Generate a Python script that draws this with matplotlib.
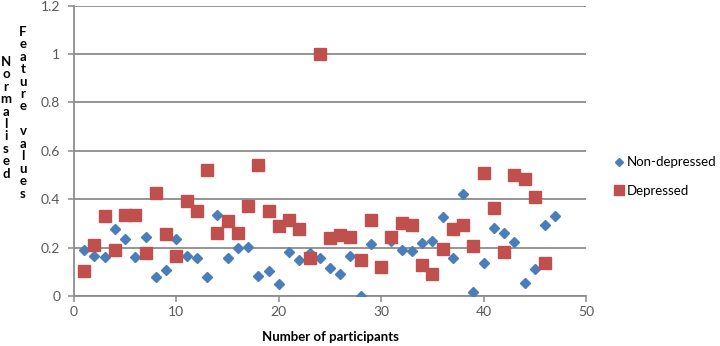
import numpy as np
import matplotlib
matplotlib.use('Agg')
import matplotlib.pyplot as plt

plt.rcParams['font.family'] = ['Lato', 'DejaVu Sans']

# participant numbers
participants = np.arange(1, 48)

# normalised feature values
non_depressed = [0.19, 0.167, 0.162, 0.276, 0.236, 0.162, 0.244, 0.077, 0.106, 0.234,
                 0.167, 0.156, 0.08, 0.335, 0.156, 0.2, 0.204, 0.084, 0.105, 0.05,
                 0.183, 0.15, 0.176, 0.157, 0.116, 0.092, 0.165, 0.0, 0.215, 0.12,
                 0.228, 0.19, 0.187, 0.22, 0.229, 0.328, 0.156, 0.421, 0.018, 0.138,
                 0.28, 0.262, 0.224, 0.052, 0.112, 0.293, 0.331]
depressed = [0.103, 0.21, 0.33, 0.189, 0.335, 0.335, 0.176, 0.427, 0.255, 0.167,
             0.393, 0.351, 0.52, 0.259, 0.31, 0.259, 0.373, 0.541, 0.353, 0.29,
             0.314, 0.275, 0.156, 1.0, 0.241, 0.252, 0.245, 0.149, 0.314, 0.121,
             0.242, 0.3, 0.293, 0.128, 0.091, 0.194, 0.276, 0.293, 0.207, 0.51,
             0.365, 0.183, 0.5, 0.483, 0.41, 0.135]

blue = '#4a7ebb'
red = '#c0504d'
grid_col = '#8c8c8c'
tick_col = '#595959'

fig = plt.figure(figsize=(7.2, 3.46), dpi=100)
ax = fig.add_axes([0.1028, 0.1445, 0.7111, 0.839])

ax.plot(participants, non_depressed, linestyle='none', marker='D', markersize=5.6,
        color=blue, label='Non-depressed', zorder=3)
ax.plot(participants[:len(depressed)], depressed, linestyle='none', marker='s',
        markersize=8.6, color=red, label='Depressed', zorder=4)

ax.set_xlim(0, 50)
ax.set_ylim(0, 1.2)
ax.set_xticks(np.arange(0, 51, 10))
ax.set_yticks(np.arange(0, 1.21, 0.2))
ax.set_yticklabels(['0', '0.2', '0.4', '0.6', '0.8', '1', '1.2'])

ax.yaxis.grid(True, color=grid_col, linewidth=1.3)
ax.set_axisbelow(True)
for side in ['top', 'right']:
    ax.spines[side].set_visible(False)
for side in ['left', 'bottom']:
    ax.spines[side].set_color(grid_col)
    ax.spines[side].set_linewidth(1.3)
ax.tick_params(axis='both', colors=grid_col, labelcolor=tick_col, labelsize=10,
               length=4, width=1.1)
ax.tick_params(axis='y', pad=6)

ax.set_xlabel('Number of participants', fontsize=9.5, fontweight='bold', labelpad=9)

# stacked vertical y label, two columns
col1 = 'Normalised'
col2 = 'Feature values'
step = 12.45 / 346
for i, ch in enumerate(col1):
    fig.text(6 / 720, 1 - (61.7 / 346) - i * step, ch, ha='center', va='center',
             fontsize=9.5, fontweight='bold')
for i, ch in enumerate(col2):
    if ch != ' ':
        fig.text(23 / 720, 1 - (31.7 / 346) - i * step, ch, ha='center', va='center',
                 fontsize=9.5, fontweight='bold')

ax.legend(loc='upper left', bbox_to_anchor=(1.042, 0.50), frameon=False, fontsize=9.5,
          handletextpad=0.05, handlelength=1.0, labelspacing=1.25, borderaxespad=0,
          markerscale=0.8)

fig.savefig('out.png', dpi=100)
